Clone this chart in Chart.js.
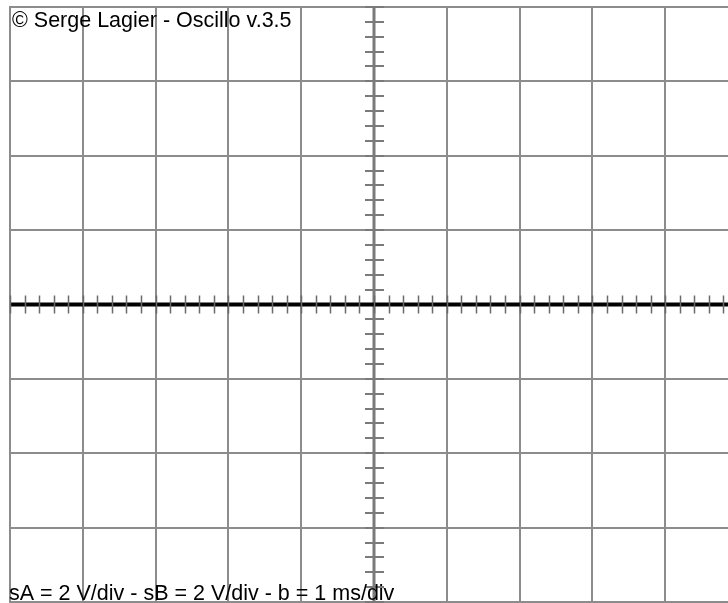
<!DOCTYPE html>
<html>
<head>
<meta charset="utf-8">
<script src="https://cdn.jsdelivr.net/npm/chart.js@4.4.1/dist/chart.umd.min.js"></script>
<style>
  html, body { margin: 0; padding: 0; background: #fff; overflow: hidden; }
  #wrap { position: relative; width: 740px; height: 603px; }
</style>
</head>
<body>
<div id="wrap"><canvas id="scope"></canvas></div>
<script>
// screen settings of the oscilloscope
const voltsPerDiv = 2;      // sA and sB
const msPerDiv = 1;         // time base b
const xDivs = 10;
const yDivs = 8;
const subDivs = 5;

// traces (screen is empty, nothing captured)
const channelA = [];
const channelB = [];

const titleText = "\u00A9 Serge Lagier - Oscillo v.3.5";
const footerText = "sA = 2 V/div - sB = 2 V/div - b = 1 ms/div";

const xMax = (xDivs / 2) * msPerDiv;
const yMax = (yDivs / 2) * voltsPerDiv;

// center axes with small graduation marks + caption texts
const scopePlugin = {
  id: "scope",
  afterDatasetsDraw(chart) {
    const ctx = chart.ctx;
    const xs = chart.scales.x;
    const ys = chart.scales.y;
    const area = chart.chartArea;
    const x0 = xs.getPixelForValue(0);
    const y0 = ys.getPixelForValue(0);

    ctx.save();
    // vertical center axis
    ctx.strokeStyle = "#7a7a7a";
    ctx.lineWidth = 3;
    ctx.beginPath();
    ctx.moveTo(x0, area.top);
    ctx.lineTo(x0, area.bottom);
    ctx.stroke();

    ctx.lineWidth = 2;
    const yStep = voltsPerDiv / subDivs;
    for (let v = -yMax; v <= yMax + 1e-9; v += yStep) {
      const py = Math.round(ys.getPixelForValue(v));
      ctx.beginPath();
      ctx.moveTo(x0 - 9, py);
      ctx.lineTo(x0 + 10, py);
      ctx.stroke();
    }

    // horizontal center axis
    ctx.strokeStyle = "#000";
    ctx.lineWidth = 4;
    ctx.beginPath();
    ctx.moveTo(area.left, y0);
    ctx.lineTo(area.right, y0);
    ctx.stroke();

    ctx.strokeStyle = "#6a6a6a";
    ctx.lineWidth = 1.5;
    const xStep = msPerDiv / subDivs;
    for (let t = -xMax; t <= xMax + 1e-9; t += xStep) {
      const px = Math.round(xs.getPixelForValue(t)) + 0.5;
      ctx.beginPath();
      ctx.moveTo(px, y0 - 9);
      ctx.lineTo(px, y0 + 9);
      ctx.stroke();
    }

    // captions
    ctx.fillStyle = "#000";
    ctx.font = "21.5px 'Liberation Sans', Arial, sans-serif";
    ctx.textBaseline = "alphabetic";
    ctx.textAlign = "left";
    ctx.fillText(titleText, 12, 27);
    ctx.fillText(footerText, 9, 600);
    ctx.restore();
  }
};

new Chart(document.getElementById("scope"), {
  type: "scatter",
  data: {
    datasets: [
      { label: "A", data: channelA, borderColor: "#d00", showLine: true, pointRadius: 0 },
      { label: "B", data: channelB, borderColor: "#00d", showLine: true, pointRadius: 0 }
    ]
  },
  options: {
    responsive: true,
    maintainAspectRatio: false,
    animation: false,
    layout: { padding: { left: 10, top: 7, right: 2, bottom: 1 } },
    plugins: { legend: { display: false }, tooltip: { enabled: false } },
    scales: {
      x: {
        type: "linear",
        min: -xMax,
        max: xMax,
        ticks: { display: false, stepSize: msPerDiv },
        grid: { color: "#8c8c8c", lineWidth: 2, drawTicks: false },
        border: { display: true, color: "#8c8c8c", width: 2 }
      },
      y: {
        type: "linear",
        min: -yMax,
        max: yMax,
        ticks: { display: false, stepSize: voltsPerDiv },
        grid: { color: "#8c8c8c", lineWidth: 2, drawTicks: false },
        border: { display: true, color: "#8c8c8c", width: 2 }
      }
    }
  },
  plugins: [scopePlugin]
});
</script>
</body>
</html>
